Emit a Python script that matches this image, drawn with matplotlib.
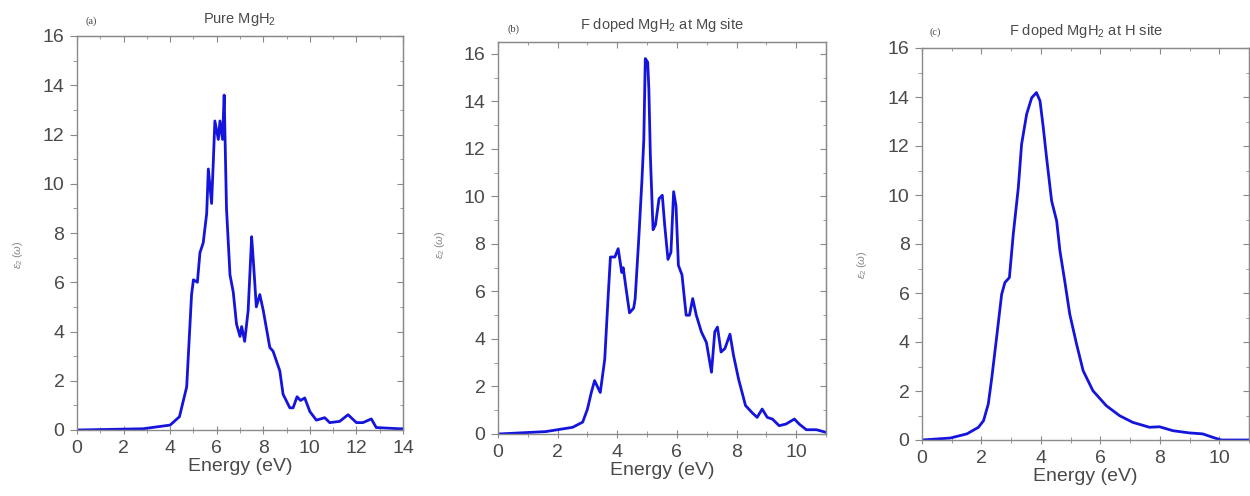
import matplotlib
matplotlib.use("Agg")
import matplotlib.pyplot as plt
from matplotlib.ticker import MultipleLocator

plt.rcParams['font.family'] = ['Liberation Sans', 'DejaVu Sans']
plt.rcParams['mathtext.fontset'] = 'custom'
plt.rcParams['mathtext.rm'] = 'Liberation Sans'
plt.rcParams['mathtext.it'] = 'Liberation Sans:italic'

# ---- data ----
energy_a = [0.0, 2.83, 4.0, 4.4, 4.71, 4.92, 5.0, 5.17, 5.28, 5.42, 5.57, 5.64, 5.78, 5.85,
            5.92, 6.07, 6.14, 6.25, 6.32, 6.42, 6.57, 6.71, 6.85, 7.0, 7.07, 7.2, 7.35, 7.5,
            7.57, 7.64, 7.7, 7.85, 8.0, 8.28, 8.42, 8.71, 8.85, 9.14, 9.28, 9.45, 9.6, 9.78,
            10.0, 10.28, 10.64, 10.85, 11.28, 11.64, 12.0, 12.28, 12.64, 12.85, 13.85, 14.0]
eps2_a = [0.0, 0.05, 0.2, 0.54, 1.75, 5.5, 6.1, 6.0, 7.2, 7.6, 8.8, 10.6, 9.2, 10.8,
          12.55, 11.8, 12.55, 11.8, 13.6, 9.0, 6.3, 5.6, 4.3, 3.8, 4.2, 3.6, 4.85, 7.85,
          6.9, 5.9, 5.0, 5.5, 4.85, 3.35, 3.2, 2.4, 1.45, 0.9, 0.9, 1.35, 1.2, 1.3,
          0.75, 0.4, 0.5, 0.3, 0.35, 0.62, 0.3, 0.3, 0.45, 0.1, 0.05, 0.05]

energy_b = [0.0, 1.59, 2.5, 2.84, 3.0, 3.13, 3.24, 3.35, 3.43, 3.58, 3.69, 3.77, 3.92, 4.03,
            4.15, 4.2, 4.28, 4.41, 4.55, 4.6, 4.72, 4.83, 4.89, 4.94, 5.02, 5.06, 5.11, 5.2,
            5.28, 5.4, 5.51, 5.59, 5.7, 5.8, 5.89, 5.97, 6.05, 6.17, 6.31, 6.42, 6.53, 6.65,
            6.82, 6.99, 7.16, 7.27, 7.36, 7.48, 7.61, 7.78, 7.9, 8.07, 8.3, 8.52, 8.69, 8.86,
            9.03, 9.2, 9.43, 9.66, 9.94, 10.1, 10.34, 10.68, 11.0]
eps2_b = [0.0, 0.1, 0.28, 0.5, 1.05, 1.75, 2.25, 1.95, 1.75, 3.15, 5.7, 7.45, 7.45, 7.8,
          6.8, 7.0, 6.25, 5.1, 5.3, 5.7, 8.2, 10.75, 12.4, 15.8, 15.65, 14.5, 11.7, 8.6,
          8.8, 9.9, 10.05, 8.8, 7.35, 7.65, 10.2, 9.6, 7.1, 6.7, 5.0, 5.0, 5.7, 5.0,
          4.3, 3.85, 2.6, 4.3, 4.5, 3.45, 3.6, 4.2, 3.3, 2.3, 1.2, 0.9, 0.7, 1.05,
          0.7, 0.63, 0.35, 0.42, 0.63, 0.42, 0.18, 0.18, 0.07]

energy_c = [0.0, 0.95, 1.51, 1.9, 2.07, 2.23, 2.35, 2.51, 2.68, 2.79, 2.94, 3.07, 3.24, 3.35,
            3.52, 3.69, 3.85, 3.97, 4.08, 4.19, 4.36, 4.53, 4.64, 4.8, 4.97, 5.2, 5.42, 5.75,
            6.2, 6.65, 7.09, 7.65, 7.99, 8.44, 8.99, 9.44, 9.78, 10.06, 11.0]
eps2_c = [0.0, 0.08, 0.25, 0.52, 0.79, 1.47, 2.56, 4.19, 5.95, 6.43, 6.63, 8.4, 10.3, 12.07,
          13.3, 13.97, 14.18, 13.84, 12.75, 11.53, 9.76, 8.94, 7.72, 6.5, 5.14, 3.91, 2.83, 2.01,
          1.4, 0.99, 0.72, 0.52, 0.54, 0.38, 0.29, 0.25, 0.11, 0.0, 0.0]

panel_tags = ['(a)', '(b)', '(c)']
titles = ['Pure MgH$_2$', 'F doped MgH$_2$ at Mg site', 'F doped MgH$_2$ at H site']
xlims = [(0, 14), (0, 11), (0, 11)]
ylims = [(0, 16), (0, 16.5), (0, 16)]

W, H = 1250, 496
fig = plt.figure(figsize=(W / 100, H / 100), dpi=100)

# axes boxes in pixels: left, right, top, bottom
boxes = [(77, 403, 36, 430), (498, 826, 42, 434), (922, 1249, 48, 440)]
ylabel_x = [18, 440, 862]
ylabel_y = [255, 245, 265]
tag_pos = [(86, 21), (508, 29), (930, 32)]

LINE = '#1414dc'
GREY = '#4a4a4a'
SPINE = '#8a8a8a'

datasets = [(energy_a, eps2_a), (energy_b, eps2_b), (energy_c, eps2_c)]

for i, (l, r, t, b) in enumerate(boxes):
    ax = fig.add_axes([l / W, 1 - b / H, (r - l) / W, (b - t) / H])
    x, y = datasets[i]
    ax.plot(x, y, color=LINE, lw=2.0, solid_joinstyle='round')
    ax.set_xlim(*xlims[i])
    ax.set_ylim(*ylims[i])
    ax.xaxis.set_major_locator(MultipleLocator(2))
    ax.xaxis.set_minor_locator(MultipleLocator(1))
    ax.yaxis.set_major_locator(MultipleLocator(2))
    ax.yaxis.set_minor_locator(MultipleLocator(1))
    for s in ax.spines.values():
        s.set_color(SPINE)
        s.set_linewidth(1.0)
    ax.tick_params(axis='y', which='both', direction='out', colors=SPINE,
                   labelcolor=GREY, labelsize=14, pad=4)
    ax.tick_params(axis='y', which='major', length=5)
    ax.tick_params(axis='y', which='minor', length=3)
    ax.tick_params(axis='x', which='both', direction='inout', colors=SPINE,
                   labelcolor=GREY, labelsize=14, pad=4)
    ax.tick_params(axis='x', which='major', length=6)
    ax.tick_params(axis='x', which='minor', length=4)
    # top and right inward ticks
    secx = ax.secondary_xaxis('top')
    secx.xaxis.set_major_locator(MultipleLocator(2))
    secx.xaxis.set_minor_locator(MultipleLocator(1))
    secx.tick_params(which='both', direction='in', colors=SPINE, labeltop=False)
    secx.tick_params(which='major', length=4)
    secx.tick_params(which='minor', length=2.5)
    secx.spines['top'].set_color(SPINE)
    secy = ax.secondary_yaxis('right')
    secy.yaxis.set_major_locator(MultipleLocator(2))
    secy.yaxis.set_minor_locator(MultipleLocator(1))
    secy.tick_params(which='both', direction='in', colors=SPINE, labelright=False)
    secy.tick_params(which='major', length=4)
    secy.tick_params(which='minor', length=2.5)
    secy.spines['right'].set_color(SPINE)

    ax.set_xlabel('Energy (eV)', fontsize=14, color=GREY, labelpad=1)

    cx = (l + r) / 2
    fig.text(cx / W, 1 - (t - 17) / H, titles[i], fontsize=10.5, color=GREY,
             ha='center', va='center')
    fig.text(tag_pos[i][0] / W, 1 - tag_pos[i][1] / H, panel_tags[i], fontsize=7.5,
             color='#444444', ha='left', va='center', family='Liberation Serif')
    fig.text(ylabel_x[i] / W, 1 - ylabel_y[i] / H, r'$\varepsilon_2\,(\omega)$',
             fontsize=8, color='#888888', rotation=90, ha='center', va='center')

fig.savefig('out.png', dpi=100)
